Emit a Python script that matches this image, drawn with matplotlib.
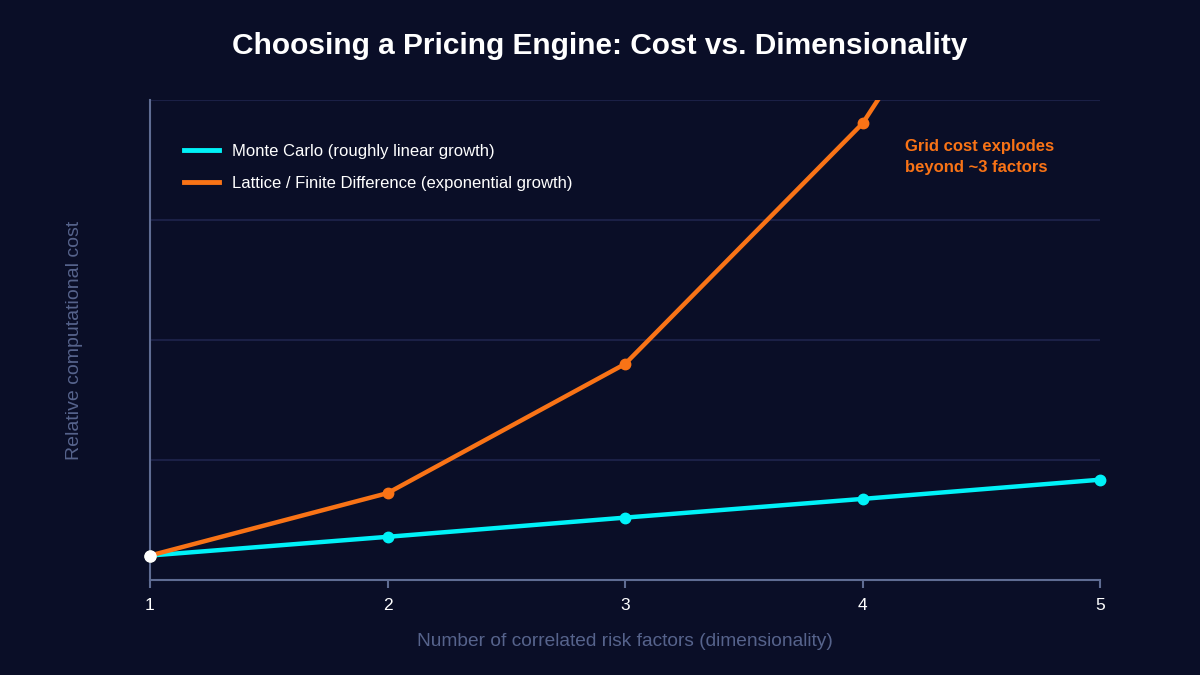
import matplotlib
matplotlib.use("Agg")
import matplotlib.pyplot as plt

dims = [1, 2, 3, 4, 5]
monte_carlo = [5.1, 9.0, 13.0, 16.9, 20.9]
lattice = [5.1, 18.1, 45.0, 95.1, 171.0]
y_ticks = [0, 25, 50, 75, 100]
y_top = 100

bg = "#0a0e27"
axis_col = "#5f6c93"
grid_col = "#1b2046"
label_col = "#56638c"
cyan = "#00f2f8"
orange = "#f97316"

plt.rcParams['font.family'] = ['Liberation Sans', 'DejaVu Sans']

fig = plt.figure(figsize=(12, 6.75), dpi=100, facecolor=bg)
ax = fig.add_axes([0.125, 0.1407, 0.7917, 0.7112], facecolor=bg)

# lines get clipped at the top, markers don't get cut at the edges
ax.plot(dims, monte_carlo, color=cyan, lw=3.2, label="Monte Carlo (roughly linear growth)", zorder=3)
ax.plot(dims, lattice, color=orange, lw=3.2, label="Lattice / Finite Difference (exponential growth)", zorder=3)
for ys, c in [(monte_carlo, cyan), (lattice, orange)]:
    pts = [(d, v) for d, v in zip(dims, ys) if v <= y_top]
    ax.plot([p[0] for p in pts], [p[1] for p in pts], ls="none", marker="o", ms=7.5,
            color=c, clip_on=False, zorder=4)
ax.plot(dims[0], monte_carlo[0], marker="o", ms=8, color="white", clip_on=False, zorder=5)

ax.set_xlim(1, 5)
ax.set_ylim(0, y_top)
ax.set_xticks(dims)
ax.set_yticks(y_ticks)
ax.set_yticklabels([])
ax.tick_params(axis="y", length=0)
ax.tick_params(axis="x", colors=axis_col, labelcolor="white", labelsize=12.5,
               length=6, width=1.5, pad=7)
ax.grid(axis="y", color=grid_col, lw=1.5)
ax.set_axisbelow(True)
for s in ["top", "right"]:
    ax.spines[s].set_visible(False)
for s in ["left", "bottom"]:
    ax.spines[s].set_color(axis_col)
    ax.spines[s].set_linewidth(1.5)

ax.set_xlabel("Number of correlated risk factors (dimensionality)",
              color=label_col, fontsize=13.8, labelpad=14)
ax.set_ylabel("Relative computational cost", color=label_col, fontsize=14,
              labelpad=45)

leg = ax.legend(loc="upper left", bbox_to_anchor=(0.02, 0.94), frameon=False,
                fontsize=12, handlelength=2.1, handletextpad=0.75,
                labelspacing=1.05, labelcolor="white")
for h in leg.legend_handles:
    h.set_linewidth(3.5)

ax.text(0.795, 0.918, "Grid cost explodes\nbeyond ~3 factors", transform=ax.transAxes,
        color=orange, fontsize=12, fontweight="bold", va="top", linespacing=1.45)

fig.text(0.5, 0.932, "Choosing a Pricing Engine: Cost vs. Dimensionality",
         ha="center", va="center", color="white", fontsize=21.5, fontweight="bold")

fig.savefig("out.png", dpi=100, facecolor=bg)
